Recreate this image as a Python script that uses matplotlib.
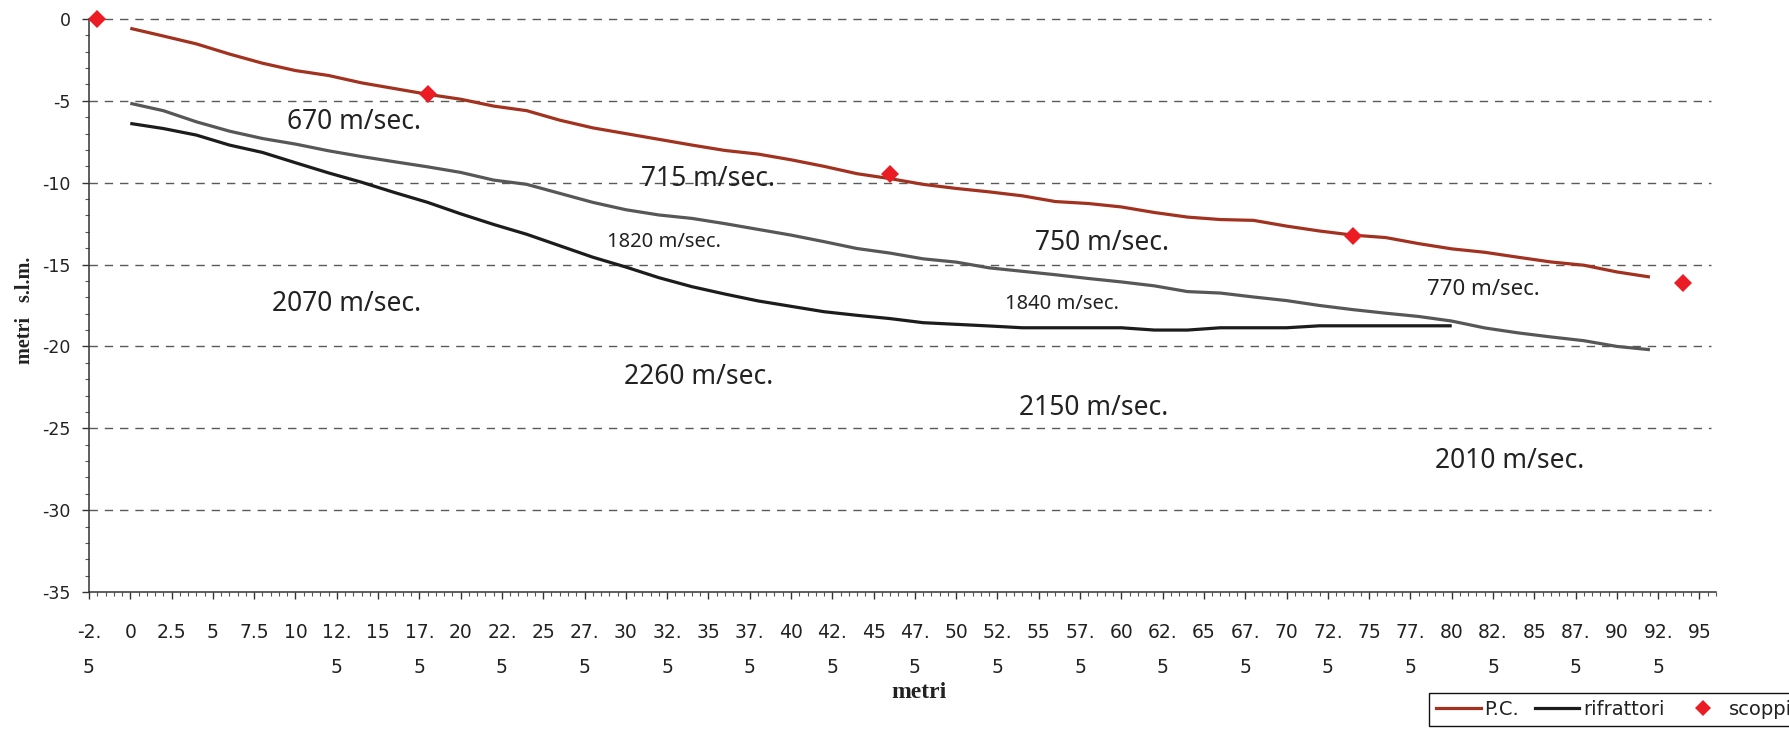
import matplotlib
matplotlib.use("Agg")
import matplotlib.pyplot as plt
from matplotlib.ticker import MultipleLocator, FixedLocator
from matplotlib.lines import Line2D

plt.rcParams["lines.scale_dashes"] = False

# --- profile data (distance along the line in metres, elevation in m s.l.m.) ---
stations = [0, 2, 4, 6, 8, 10, 12, 14, 16, 18, 20, 22, 24, 26, 28, 30, 32, 34, 36,
            38, 40, 42, 44, 46, 48, 50, 52, 54, 56, 58, 60, 62, 64, 66, 68, 70, 72,
            74, 76, 78, 80, 82, 84, 86, 88, 90, 92]

ground = [-0.57, -1.04, -1.52, -2.14, -2.70, -3.15, -3.45, -3.90, -4.25, -4.60,
          -4.90, -5.32, -5.60, -6.18, -6.65, -7.00, -7.35, -7.70, -8.03, -8.25,
          -8.60, -9.00, -9.45, -9.75, -10.10, -10.35, -10.56, -10.80, -11.15,
          -11.27, -11.48, -11.82, -12.10, -12.25, -12.30, -12.65, -12.95, -13.20,
          -13.35, -13.72, -14.04, -14.25, -14.55, -14.84, -15.04, -15.45, -15.76]

refractor_1 = [-5.15, -5.60, -6.28, -6.85, -7.30, -7.64, -8.05, -8.40, -8.72, -9.03,
               -9.37, -9.84, -10.10, -10.65, -11.20, -11.65, -11.97, -12.18, -12.50,
               -12.85, -13.20, -13.60, -14.02, -14.30, -14.65, -14.85, -15.20, -15.41,
               -15.62, -15.85, -16.06, -16.30, -16.65, -16.74, -16.98, -17.20, -17.50,
               -17.75, -17.97, -18.17, -18.45, -18.87, -19.17, -19.42, -19.65, -20.00,
               -20.20]

refractor_2_stations = [0, 2, 4, 6, 8, 10, 12, 14, 16, 18, 20, 22, 24, 26, 28, 30, 32,
                        34, 36, 38, 40, 42, 44, 46, 48, 50, 52, 54, 56, 58, 60, 62, 64,
                        66, 68, 70, 72, 74, 76, 78, 80]
refractor_2 = [-6.38, -6.69, -7.09, -7.70, -8.15, -8.78, -9.40, -9.97, -10.60, -11.20,
               -11.90, -12.55, -13.15, -13.85, -14.55, -15.15, -15.80, -16.35, -16.80,
               -17.22, -17.55, -17.88, -18.10, -18.30, -18.55, -18.65, -18.75, -18.86,
               -18.86, -18.86, -18.86, -19.00, -19.00, -18.86, -18.86, -18.86, -18.74,
               -18.74, -18.74, -18.74, -18.74]

shot_x = [-2, 18, 46, 74, 94]
shot_y = [0.0, -4.60, -9.48, -13.27, -16.10]

# seismic velocity labels: text, x, y, font size
velocity_text = ["670 m/sec.", "715 m/sec.", "750 m/sec.", "770 m/sec.",
                 "1820 m/sec.", "1840 m/sec.", "2070 m/sec.", "2260 m/sec.",
                 "2150 m/sec.", "2010 m/sec."]
velocity_x = [13.55, 35.0, 58.85, 81.9, 32.3, 56.4, 13.1, 34.4, 58.3, 83.5]
velocity_y = [-6.30, -9.79, -13.70, -16.51, -13.62, -17.43, -17.43, -21.88, -23.77, -26.97]
velocity_size = [19, 19, 19, 16, 14.5, 14.5, 19, 19, 19, 19]

x_ticks = [-2.5, 0, 2.5, 5, 7.5, 10, 12.5, 15, 17.5, 20, 22.5, 25, 27.5, 30, 32.5, 35,
           37.5, 40, 42.5, 45, 47.5, 50, 52.5, 55, 57.5, 60, 62.5, 65, 67.5, 70, 72.5,
           75, 77.5, 80, 82.5, 85, 87.5, 90, 92.5, 95]
x_tick_labels = ["-2.\n5", "0", "2.5", "5", "7.5", "10", "12.\n5", "15", "17.\n5", "20",
                 "22.\n5", "25", "27.\n5", "30", "32.\n5", "35", "37.\n5", "40", "42.\n5",
                 "45", "47.\n5", "50", "52.\n5", "55", "57.\n5", "60", "62.\n5", "65",
                 "67.\n5", "70", "72.\n5", "75", "77.\n5", "80", "82.\n5", "85", "87.\n5",
                 "90", "92.\n5", "95"]
y_ticks = [0, -5, -10, -15, -20, -25, -30, -35]
y_tick_labels = ["0", "-5", "-10", "-15", "-20", "-25", "-30", "-35"]

C_GROUND = "#a2321f"
C_REF1 = "#575757"
C_REF2 = "#1c1c1c"
C_SHOT = "#ec1c24"
C_TEXT = "#222222"

fig = plt.figure(figsize=(17.90, 7.31), dpi=100)
ax = fig.add_axes([89 / 1790, 1 - 592 / 731, (1716 - 89) / 1790, (592 - 19) / 731])

ax.set_xlim(-2.5, 96)
ax.set_ylim(-35, 0)

# dashed horizontal grid
for yv in y_ticks[:-1]:
    ax.axhline(yv, xmin=0, xmax=(95.7 + 2.5) / 98.5, color="#5a5a5a", lw=1.0,
               linestyle=(0, (6, 5)), zorder=1, clip_on=False)

ax.plot(stations, ground, color=C_GROUND, lw=2.3, zorder=3, solid_capstyle="butt")
ax.plot(stations, refractor_1, color=C_REF1, lw=2.3, zorder=3, solid_capstyle="butt")
ax.plot(refractor_2_stations, refractor_2, color=C_REF2, lw=2.3, zorder=3,
        solid_capstyle="butt")
ax.plot(shot_x, shot_y, linestyle="none", marker="D", markersize=9.4,
        color=C_SHOT, markeredgewidth=0, zorder=4, clip_on=False)

for t, xv, yv, fs in zip(velocity_text, velocity_x, velocity_y, velocity_size):
    ax.text(xv, yv, t, ha="center", va="center", fontsize=fs, color=C_TEXT,
            family="Noto Sans", zorder=5)

# axes styling
for side in ("top", "right"):
    ax.spines[side].set_visible(False)
for side in ("left", "bottom"):
    ax.spines[side].set_color("#333333")
    ax.spines[side].set_linewidth(1.1)

ax.xaxis.set_major_locator(FixedLocator(x_ticks))
ax.set_xticklabels(x_tick_labels, fontsize=13.5, color=C_TEXT, family="DejaVu Sans",
                   linespacing=2.1)
ax.xaxis.set_minor_locator(MultipleLocator(0.5))
ax.yaxis.set_major_locator(FixedLocator(y_ticks))
ax.set_yticklabels(y_tick_labels, fontsize=12.5, color=C_TEXT, family="DejaVu Sans")
ax.yaxis.set_minor_locator(MultipleLocator(1))

ax.tick_params(axis="x", which="major", direction="out", length=5, width=1.0,
               color="#333333", pad=17)
ax.tick_params(axis="x", which="minor", direction="out", length=2.6, width=0.8,
               color="#555555")
ax.tick_params(axis="y", which="major", direction="out", length=5, width=1.0,
               color="#333333", pad=8)
ax.tick_params(axis="y", which="minor", direction="out", length=3, width=0.8,
               color="#555555")

fig.text(919 / 1790, 1 - 693 / 731, "metri", ha="center", va="center",
         fontsize=17, fontweight="bold", family="Liberation Serif", color=C_TEXT)
fig.text(25 / 1790, 1 - 310 / 731, "metri   s.l.m.", ha="center", va="center",
         rotation=90, fontsize=14.5, fontweight="bold", family="Liberation Serif",
         color=C_TEXT)

handles = [
    Line2D([], [], color=C_GROUND, lw=2.3),
    Line2D([], [], color=C_REF2, lw=2.3),
    Line2D([], [], linestyle="none", marker="D", markersize=8.5, color=C_SHOT,
           markeredgewidth=0),
]
leg = fig.legend(handles, ["P.C.", "rifrattori", "scoppi"], ncol=3,
                 loc="upper left", bbox_to_anchor=(1429 / 1790, 1 - 693 / 731),
                 frameon=True, fancybox=False, edgecolor="#111111", framealpha=1,
                 fontsize=14, handlelength=2.3, handletextpad=0.2,
                 columnspacing=0.8, borderpad=0.35, borderaxespad=0)
leg.get_frame().set_linewidth(1.0)
for txt in leg.get_texts():
    txt.set_color(C_TEXT)

fig.savefig("out.png", dpi=100)
